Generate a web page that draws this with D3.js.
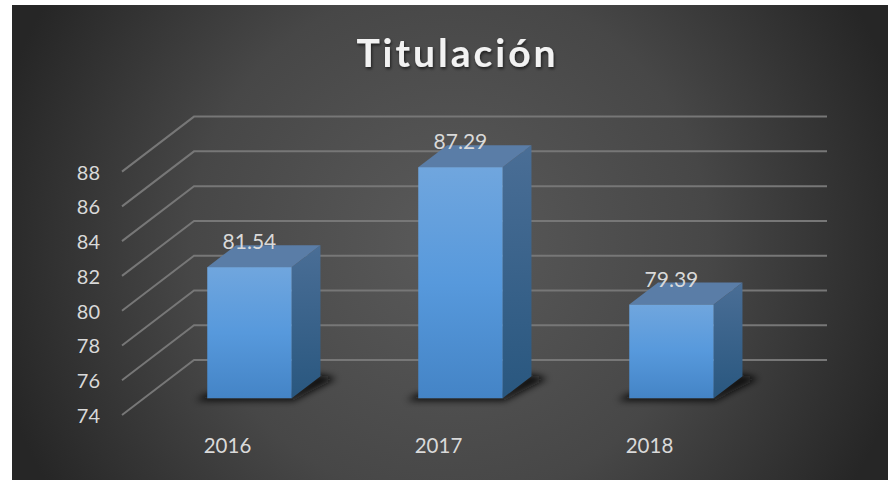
<!DOCTYPE html>
<html>
<head>
<meta charset='utf-8'>
<style>
body { margin: 0; background: #fff; }
svg { display: block; }
text { font-family: Lato, "Open Sans", sans-serif; }
</style>
</head>
<body>
<svg id="chart" width="888" height="480"></svg>
<script src="https://d3js.org/d3.v7.min.js"></script>
<script>
var categories = ['2016', '2017', '2018'];
var values = [81.54, 87.29, 79.39];
var yTicks = [74, 76, 78, 80, 82, 84, 86, 88];
var title = 'Titulación';

var svg = d3.select('#chart'),
    depthX = 72,
    depthY = -55,
    barFront = 0.305,   // share of the floor depth in front of the bar
    barDepth = 0.4;

var x = d3.scaleBand().domain(categories).range([122, 755]).paddingInner(0.6).paddingOuter(0.3);
var y = d3.scaleLinear().domain([74, 88]).range([415, 171.6]);

var defs = svg.append('defs');

function addGradient(id, type, attrs, stops) {
  var g = defs.append(type).attr('id', id);
  Object.keys(attrs).forEach(k => g.attr(k, attrs[k]));
  stops.forEach(s => g.append('stop').attr('offset', s[0]).attr('stop-color', s[1]));
}

addGradient('bg', 'radialGradient', {gradientUnits: 'userSpaceOnUse', cx: 450, cy: 242, r: 470},
  [[0, '#5a5a5a'], [0.55, '#474747'], [1, '#262626']]);
addGradient('front', 'linearGradient', {x1: 0, y1: 0, x2: 0, y2: 1},
  [[0, '#70a6de'], [0.5, '#5799dc'], [1, '#4484c6']]);
addGradient('side', 'linearGradient', {x1: 0, y1: 0, x2: 0, y2: 1},
  [[0, '#4a6e96'], [1, '#29577f']]);

defs.append('filter').attr('id', 'blur').attr('x', '-30%').attr('y', '-60%').attr('width', '160%').attr('height', '220%')
  .append('feGaussianBlur').attr('stdDeviation', 3.5);
defs.append('filter').attr('id', 'titleShadow').attr('x', '-10%').attr('y', '-20%').attr('width', '120%').attr('height', '150%')
  .append('feDropShadow').attr('dx', 1).attr('dy', 2).attr('stdDeviation', 1.5).attr('flood-color', '#000').attr('flood-opacity', 0.6);

svg.append('rect').attr('x', 12).attr('y', 5).attr('width', 876).attr('height', 475).attr('fill', 'url(#bg)');

svg.append('text').attr('x', 457.5).attr('y', 67).attr('text-anchor', 'middle')
  .attr('font-size', 39).attr('font-weight', 700).attr('letter-spacing', 3)
  .attr('fill', '#f2f2f2').attr('filter', 'url(#titleShadow)').text(title);

// gridlines: side wall then back wall
var right = x.range()[1];
svg.append('g').selectAll('path').data(yTicks).enter().append('path')
  .attr('fill', 'none').attr('stroke', '#777').attr('stroke-width', 2)
  .attr('d', d => d3.line()([
    [x.range()[0], y(d)],
    [x.range()[0] + depthX, y(d) + depthY],
    [right + depthX, y(d) + depthY]
  ]));

// y axis labels
svg.append('g').selectAll('text').data(yTicks).enter().append('text')
  .attr('x', 100).attr('y', d => y(d) + 8).attr('text-anchor', 'end')
  .attr('font-size', 20).attr('fill', '#d9d9d9').text(d => d);

// category labels
svg.append('g').selectAll('text').data(categories).enter().append('text')
  .attr('x', d => x(d) + x.bandwidth() / 2).attr('y', 453).attr('text-anchor', 'middle')
  .attr('font-size', 20.5).attr('fill', '#d9d9d9').text(d => d);

var bw = x.bandwidth(),
    ox = depthX * barFront,
    oy = depthY * barFront,
    dx = depthX * barDepth,
    dy = depthY * barDepth,
    floor = y(74) + oy;

var bars = svg.append('g').selectAll('g').data(categories).enter().append('g');

// floor shadow
bars.append('path')
  .attr('filter', 'url(#blur)').attr('fill', '#0a0a0a')
  .attr('d', c => {
    var l = x(c) + ox;
    return d3.line()([[l - 12, floor + 2], [l + bw + 2, floor + 2], [l + bw + dx + 16, floor + dy + 2], [l + bw + dx - 2, floor + dy - 2], [l + bw, floor - 4], [l, floor - 4]]);
  });

bars.append('path').attr('fill', 'url(#side)')
  .attr('d', (c, i) => {
    var r = x(c) + ox + bw, t = y(values[i]) + oy;
    return d3.line()([[r, t], [r + dx, t + dy], [r + dx, floor + dy], [r, floor]]) + 'Z';
  });

bars.append('path').attr('fill', '#5a7da7')
  .attr('d', (c, i) => {
    var l = x(c) + ox, t = y(values[i]) + oy;
    return d3.line()([[l, t], [l + dx, t + dy], [l + bw + dx, t + dy], [l + bw, t]]) + 'Z';
  });

bars.append('rect').attr('fill', 'url(#front)')
  .attr('x', c => x(c) + ox).attr('width', bw)
  .attr('y', (c, i) => y(values[i]) + oy)
  .attr('height', (c, i) => floor - (y(values[i]) + oy));

// value labels
bars.append('text')
  .attr('x', c => x(c) + ox + bw / 2)
  .attr('y', (c, i) => y(values[i]) + oy - 18)
  .attr('text-anchor', 'middle').attr('font-size', 21).attr('fill', '#d9d9d9')
  .text((c, i) => d3.format('.2f')(values[i]));
</script>
</body>
</html>
